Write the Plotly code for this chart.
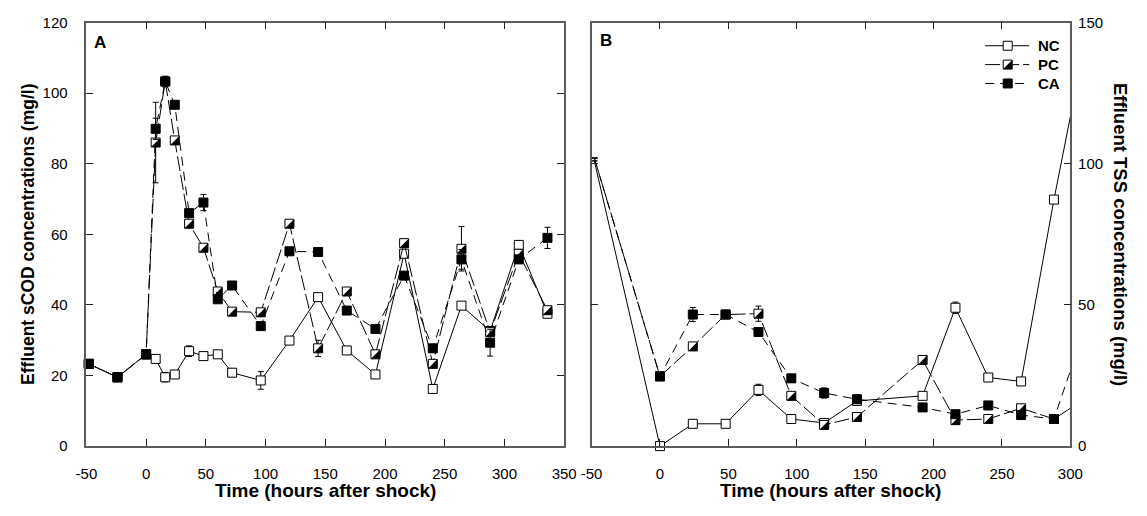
import plotly.graph_objects as go

# ---- Panel A: effluent sCOD (mg/l) ----
time_a = [-48, -24, 0, 8, 16, 24, 36, 48, 60, 72, 96, 120, 144, 168, 192, 216, 240, 264, 288, 312, 336]
nc_a = [23.3, 19.5, 26.0, 24.7, 19.5, 20.3, 26.9, 25.5, 26.0, 20.8, 18.6, 29.9, 42.2, 27.1, 20.3, 54.5, 16.2, 39.8, 32.6, 57.0, 37.5]
pc_a = [23.3, 19.5, 26.0, 86.0, 103.3, 86.6, 63.0, 56.2, 43.8, 38.1, 37.9, 63.0, 27.7, 43.8, 26.0, 57.5, 23.3, 55.9, 32.3, 54.5, 38.5]
ca_a = [23.3, 19.5, 26.0, 89.9, 103.3, 96.7, 66.0, 69.0, 41.6, 45.5, 34.0, 55.2, 55.0, 38.4, 33.2, 48.3, 27.7, 52.9, 29.3, 52.9, 59.0]
nc_a_err = [0, 0, 0, 0.6, 1.3, 0.6, 1.5, 0.5, 0.5, 0.6, 2.5, 0.6, 0.6, 1.0, 0.6, 1.0, 1.2, 0.8, 1.0, 1.0, 0.8]
pc_a_err = [0, 0, 0, 11.4, 1.2, 1.0, 0.8, 0.6, 0.6, 0.8, 0.8, 0.6, 2.3, 1.0, 0.8, 1.0, 1.0, 6.3, 1.0, 1.0, 0.8]
ca_a_err = [0, 0, 0, 3.0, 1.5, 0.8, 0.8, 2.3, 0.6, 0.6, 0.8, 0.6, 0.6, 0.8, 0.6, 1.0, 1.0, 2.8, 3.8, 1.0, 3.0]

# ---- Panel B: effluent TSS (mg/l) ----
time_b = [-48, 0, 24, 48, 72, 96, 120, 144, 192, 216, 240, 264, 288, 312]
nc_b = [101.0, 0.0, 7.9, 7.9, 19.9, 9.6, 8.2, 16.0, 17.8, 49.0, 24.3, 22.9, 87.3, 146.0]
pc_b = [102.0, 24.7, 35.3, 46.6, 46.9, 17.8, 7.5, 10.3, 30.5, 9.2, 9.6, 13.4, 9.6, 17.2]
ca_b = [102.0, 24.7, 46.6, 46.6, 40.4, 24.0, 18.8, 16.6, 13.7, 11.3, 14.4, 11.0, 9.6, 43.8]
nc_b_err = [0, 1.0, 0.5, 0.5, 2.0, 0.6, 0.6, 0.6, 0.6, 2.0, 0.6, 0.6, 0.6, 0]
pc_b_err = [0, 0.5, 0.5, 0.5, 2.7, 0.5, 0.5, 0.5, 0.5, 0.5, 0.5, 0.5, 0.5, 0]
ca_b_err = [0, 0.5, 2.5, 0.6, 0.6, 0.6, 1.8, 1.5, 0.6, 0.6, 0.6, 0.6, 0.6, 0]

series_names = ["NC", "PC", "CA"]
tick_x_a = list(range(-50, 351, 50))
tick_x_b = list(range(-50, 301, 50))
tick_y_a = list(range(0, 121, 20))
tick_y_b = list(range(0, 151, 50))

FONT = "Arial, 'Liberation Sans', sans-serif"
AXIS_COLOR = "#5c5c5c"
MSIZE = 9
HALF = 4.5  # half-size (px) of the filled triangle in the PC marker

styles = {
    "NC": dict(dash="solid", fill="white"),
    "PC": dict(dash="15px,4px", fill="white"),
    "CA": dict(dash="9px,6px", fill="black"),
}

fig = go.Figure()


def add_series(x, y, err, name, xa, ya, sizes):
    st = styles[name]
    fig.add_trace(go.Scatter(
        x=x, y=y, name=name, mode="lines+markers",
        xaxis=xa, yaxis=ya, showlegend=False, cliponaxis=False,
        line=dict(color="black", width=1, dash=st["dash"]),
        marker=dict(symbol="square", size=sizes, color=st["fill"], opacity=1,
                    line=dict(color="black", width=1)),
        error_y=dict(type="data", array=err, visible=True,
                     color="black", thickness=1, width=3),
    ))


sizes_a = [MSIZE] * len(time_a)
sizes_b = [0] + [MSIZE] * (len(time_b) - 2) + [0]

for name, y, e in zip(series_names, [nc_a, pc_a, ca_a], [nc_a_err, pc_a_err, ca_a_err]):
    add_series(time_a, y, e, name, "x", "y", sizes_a)
for name, y, e in zip(series_names, [nc_b, pc_b, ca_b], [nc_b_err, pc_b_err, ca_b_err]):
    add_series(time_b, y, e, name, "x2", "y2", sizes_b)

# black lower-right half of the PC markers
tri = f"M {-HALF},{-HALF} L {HALF},{-HALF} L {HALF},{HALF} Z"


def half_fill(xref, yref, xa, ya):
    return dict(type="path", xref=xref, yref=yref, xsizemode="pixel", ysizemode="pixel",
                xanchor=xa, yanchor=ya, path=tri, fillcolor="black",
                line=dict(width=0), layer="above")


shapes = [half_fill("x", "y", t, v) for t, v in zip(time_a, pc_a)]
shapes += [half_fill("x2", "y2", t, v) for t, v, s in zip(time_b, pc_b, sizes_b) if s > 0]

W, H = 1147, 516
dom_a = [77 / W, 565 / W]
dom_b = [593 / W, 1082 / W]
dom_y = [1 - 452 / H, 1 - 14 / H]

# ---- key: a small hidden subplot whose units are page pixels ----
KEY_X0, KEY_X1, KEY_Y0, KEY_Y1 = 985, 1078, 25, 95
key_rows = [38, 57.5, 77]
key_line = (995, 1040)
key_mark = 1018
key_text = 1047
for name, row in zip(series_names, key_rows):
    st = styles[name]
    fig.add_trace(go.Scatter(x=list(key_line), y=[row, row], mode="lines", xaxis="x3", yaxis="y3",
                             showlegend=False, hoverinfo="skip", cliponaxis=False,
                             line=dict(color="black", width=1, dash=st["dash"])))
    fig.add_trace(go.Scatter(x=[key_mark], y=[row], mode="markers", xaxis="x3", yaxis="y3",
                             showlegend=False, hoverinfo="skip", cliponaxis=False,
                             marker=dict(symbol="square", size=MSIZE, color=st["fill"], opacity=1,
                                         line=dict(color="black", width=1))))
shapes.append(half_fill("x3", "y3", key_mark, key_rows[1]))

tick_font = dict(family=FONT, size=15, color="black")
axis_common = dict(showline=True, linecolor=AXIS_COLOR, linewidth=1.5, mirror="ticks",
                   ticks="inside", ticklen=7, tickwidth=1, tickcolor="#222",
                   showgrid=False, zeroline=False, tickfont=tick_font)


def labels(vals):
    return [str(v) for v in vals]


fig.update_layout(
    width=W, height=H,
    margin=dict(l=0, r=0, t=0, b=0, pad=0),
    paper_bgcolor="white", plot_bgcolor="rgba(0,0,0,0)",
    xaxis=dict(domain=dom_a, range=[-50, 350], tickvals=tick_x_a, ticktext=labels(tick_x_a),
               ticklabelstandoff=13, anchor="y", **axis_common),
    yaxis=dict(domain=dom_y, range=[0, 120], tickvals=tick_y_a, ticktext=labels(tick_y_a),
               ticklabelstandoff=14, anchor="x", **axis_common),
    xaxis2=dict(domain=dom_b, range=[-50, 300], tickvals=tick_x_b, ticktext=labels(tick_x_b),
                ticklabelstandoff=13, anchor="y2", **axis_common),
    yaxis2=dict(domain=dom_y, range=[0, 150], tickvals=tick_y_b, ticktext=labels(tick_y_b),
                ticklabelstandoff=3, anchor="x2", side="right", **axis_common),
    xaxis3=dict(domain=[KEY_X0 / W, KEY_X1 / W], range=[KEY_X0, KEY_X1], visible=False,
                fixedrange=True, anchor="y3"),
    yaxis3=dict(domain=[1 - KEY_Y1 / H, 1 - KEY_Y0 / H], range=[KEY_Y1, KEY_Y0], visible=False,
                fixedrange=True, anchor="x3"),
    shapes=shapes,
    showlegend=False,
)

title_font = dict(family=FONT, size=19, color="black", weight="bold")
ytitle_a_font = dict(family=FONT, size=17.5, color="black", weight="bold")
ytitle_b_font = dict(family=FONT, size=18.5, color="black", weight="bold")
panel_font = dict(family=FONT, size=17, color="black", weight="bold")
key_font = dict(family=FONT, size=15, color="black", weight="bold")
ann = [
    dict(text="A", x=83 / W, y=1 - 23 / H, xref="paper", yref="paper", xanchor="left", yanchor="top",
         showarrow=False, font=panel_font),
    dict(text="B", x=600 / W, y=1 - 21 / H, xref="paper", yref="paper", xanchor="left", yanchor="top",
         showarrow=False, font=panel_font),
    dict(text="Effluent sCOD concentrations (mg/l)", x=18 / W, y=(dom_y[0] + dom_y[1]) / 2,
         xref="paper", yref="paper", textangle=-90, showarrow=False, font=ytitle_a_font,
         xanchor="center", yanchor="middle"),
    dict(text="Effluent TSS concentrations (mg/l)", x=1133 / W, y=(dom_y[0] + dom_y[1]) / 2,
         xref="paper", yref="paper", textangle=90, showarrow=False, font=ytitle_b_font,
         xanchor="center", yanchor="middle"),
    dict(text="Time (hours after shock)", x=(dom_a[0] + dom_a[1]) / 2, y=1 - 498 / H,
         xref="paper", yref="paper", showarrow=False, font=title_font,
         xanchor="center", yanchor="middle"),
    dict(text="Time (hours after shock)", x=(dom_b[0] + dom_b[1]) / 2, y=1 - 498 / H,
         xref="paper", yref="paper", showarrow=False, font=title_font,
         xanchor="center", yanchor="middle"),
]
for name, row in zip(series_names, key_rows):
    ann.append(dict(text=name, x=key_text, y=row, xref="x3", yref="y3", xanchor="left",
                    yanchor="middle", showarrow=False, font=key_font))
fig.update_layout(annotations=ann)

fig.write_html("out.html")
